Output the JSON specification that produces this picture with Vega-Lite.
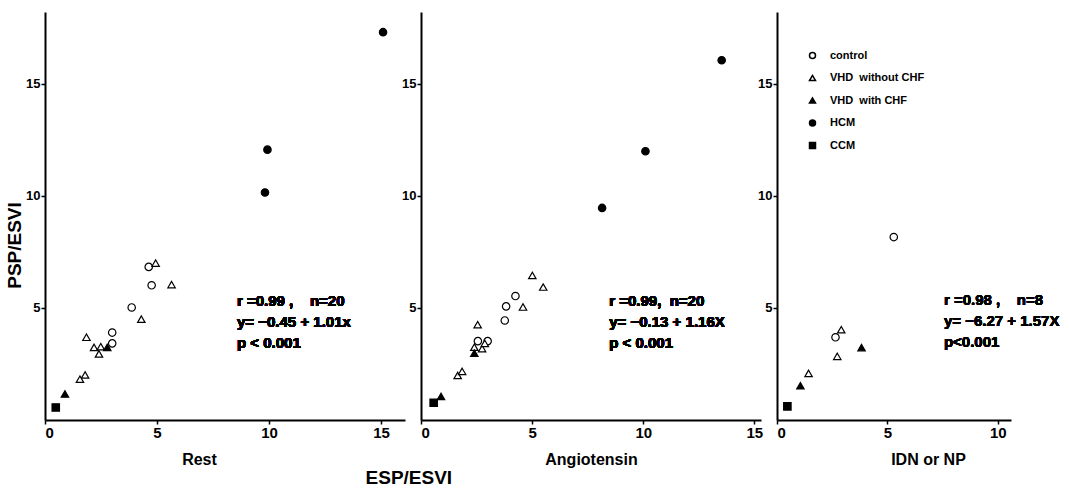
{
  "$schema": "https://vega.github.io/schema/vega-lite/v6.json",
  "background": "white",
  "padding": {"left": 5, "top": 12, "right": 5, "bottom": 5},
  "config": {
    "view": {"stroke": null},
    "font": "Liberation Sans",
    "axis": {
      "grid": false,
      "domainColor": "black",
      "domainWidth": 2,
      "tickColor": "black",
      "tickWidth": 1.5,
      "labelColor": "black",
      "labelFont": "Liberation Sans",
      "labelFontWeight": "bold",
      "titleColor": "black",
      "titleFont": "Liberation Sans",
      "titleFontWeight": "bold"
    },
    "axisX": {"labelFontSize": 15, "labelFontWeight": "bold", "tickSize": 4, "labelPadding": 1, "titleFontSize": 16, "titlePadding": 11},
    "axisY": {"labelFontSize": 13, "labelFontWeight": "bold", "tickSize": 4, "labelPadding": 1, "titleFontSize": 19, "titlePadding": 1},
    "legend": {
      "labelFont": "Liberation Sans",
      "labelFontWeight": "bold",
      "labelFontSize": 11,
      "labelColor": "black",
      "symbolSize": 36,
      "rowPadding": 9.5,
      "labelOffset": 12
    }
  },
  "datasets": {
    "rest": [
      {"group": "HCM", "x": 15.09, "y": 17.3},
      {"group": "HCM", "x": 9.93, "y": 12.06},
      {"group": "HCM", "x": 9.82, "y": 10.15},
      {"group": "control", "x": 4.63, "y": 6.83},
      {"group": "control", "x": 4.76, "y": 6.01},
      {"group": "control", "x": 3.87, "y": 5.02},
      {"group": "control", "x": 3.0, "y": 3.9},
      {"group": "control", "x": 3.0, "y": 3.42},
      {"group": "VHD without CHF", "x": 4.94, "y": 7.0},
      {"group": "VHD without CHF", "x": 5.65, "y": 6.04},
      {"group": "VHD without CHF", "x": 4.3, "y": 4.5},
      {"group": "VHD without CHF", "x": 1.85, "y": 3.69},
      {"group": "VHD without CHF", "x": 2.19, "y": 3.24},
      {"group": "VHD without CHF", "x": 2.49, "y": 3.27},
      {"group": "VHD without CHF", "x": 2.41, "y": 2.95},
      {"group": "VHD without CHF", "x": 1.79, "y": 2.01},
      {"group": "VHD without CHF", "x": 1.56, "y": 1.82},
      {"group": "VHD with CHF", "x": 2.78, "y": 3.24},
      {"group": "VHD with CHF", "x": 0.89, "y": 1.16},
      {"group": "CCM", "x": 0.48, "y": 0.56}
    ],
    "angio": [
      {"group": "HCM", "x": 13.53, "y": 16.05},
      {"group": "HCM", "x": 10.1, "y": 11.99},
      {"group": "HCM", "x": 8.15, "y": 9.46},
      {"group": "control", "x": 4.25, "y": 5.53},
      {"group": "control", "x": 3.83, "y": 5.07},
      {"group": "control", "x": 3.77, "y": 4.44},
      {"group": "control", "x": 2.56, "y": 3.52},
      {"group": "control", "x": 3.0, "y": 3.52},
      {"group": "VHD without CHF", "x": 5.01, "y": 6.45},
      {"group": "VHD without CHF", "x": 5.5, "y": 5.93},
      {"group": "VHD without CHF", "x": 4.59, "y": 5.04},
      {"group": "VHD without CHF", "x": 2.55, "y": 4.25},
      {"group": "VHD without CHF", "x": 2.4, "y": 3.25},
      {"group": "VHD without CHF", "x": 2.75, "y": 3.18},
      {"group": "VHD without CHF", "x": 2.87, "y": 3.42},
      {"group": "VHD without CHF", "x": 1.65, "y": 1.99},
      {"group": "VHD without CHF", "x": 1.85, "y": 2.17},
      {"group": "VHD with CHF", "x": 2.4, "y": 2.98},
      {"group": "VHD with CHF", "x": 0.9, "y": 1.05},
      {"group": "CCM", "x": 0.57, "y": 0.77}
    ],
    "idn": [
      {"group": "control", "x": 5.29, "y": 8.16},
      {"group": "control", "x": 2.65, "y": 3.69},
      {"group": "VHD without CHF", "x": 2.91, "y": 4.03},
      {"group": "VHD without CHF", "x": 2.73, "y": 2.84},
      {"group": "VHD without CHF", "x": 1.43, "y": 2.08},
      {"group": "VHD with CHF", "x": 3.83, "y": 3.23},
      {"group": "VHD with CHF", "x": 1.06, "y": 1.53},
      {"group": "CCM", "x": 0.47, "y": 0.61}
    ]
  },
  "title": {
    "text": "ESP/ESVI",
    "orient": "bottom",
    "anchor": "start",
    "dx": 360,
    "offset": 2,
    "font": "Liberation Sans",
    "fontWeight": "bold",
    "fontSize": 19,
    "color": "black"
  },
  "bounds": "flush",
  "spacing": 16,
  "resolve": {"scale": {"x": "independent", "y": "independent", "fill": "independent", "shape": "independent"}, "legend": {"fill": "independent", "shape": "independent"}},
  "hconcat": [
    {
      "width": 360,
      "height": 408,
      "data": {"name": "rest"},
      "layer": [
        {
          "mark": {"type": "point", "filled": true, "stroke": "black", "strokeWidth": 1.2, "size": 55, "opacity": 1},
          "encoding": {
            "x": {"field": "x", "type": "quantitative", "scale": {"domain": [0, 16.07], "nice": false, "zero": false}, "axis": {"values": [0, 5, 10, 15], "title": "Rest", "titleX": 154}},
            "y": {"field": "y", "type": "quantitative", "scale": {"domain": [0, 18.2], "nice": false, "zero": false}, "axis": {"values": [5, 10, 15], "title": "PSP/ESVI", "titleY": 233}},
            "shape": {"field": "group", "type": "nominal", "scale": {"domain": ["control", "VHD without CHF", "VHD with CHF", "HCM", "CCM"], "range": ["circle", "triangle-up", "triangle-up", "circle", "square"]}, "legend": null},
            "fill": {"field": "group", "type": "nominal", "scale": {"domain": ["control", "VHD without CHF", "VHD with CHF", "HCM", "CCM"], "range": ["white", "white", "black", "black", "black"]}, "legend": null}
          }
        },
        {
          "mark": {"type": "text", "align": "left", "baseline": "top", "fontSize": 15, "fontWeight": "bold", "font": "Liberation Sans", "lineHeight": 21, "fill": "black", "text": ["r =0.99 ,\u00a0\u00a0\u00a0 n=20", "y= −0.45 + 1.01x", "p < 0.001"]},
          "encoding": {"x": {"datum": 8.57}, "y": {"datum": 5.6}}
        }
      ]
    },
    {
      "width": 340,
      "height": 408,
      "data": {"name": "angio"},
      "layer": [
        {
          "mark": {"type": "point", "filled": true, "stroke": "black", "strokeWidth": 1.2, "size": 55, "opacity": 1},
          "encoding": {
            "x": {"field": "x", "type": "quantitative", "scale": {"domain": [0, 15.3], "nice": false, "zero": false}, "axis": {"values": [0, 5, 10, 15], "title": "Angiotensin"}},
            "y": {"field": "y", "type": "quantitative", "scale": {"domain": [0, 18.2], "nice": false, "zero": false}, "axis": {"values": [5, 10, 15], "title": null}},
            "shape": {"field": "group", "type": "nominal", "scale": {"domain": ["control", "VHD without CHF", "VHD with CHF", "HCM", "CCM"], "range": ["circle", "triangle-up", "triangle-up", "circle", "square"]}, "legend": null},
            "fill": {"field": "group", "type": "nominal", "scale": {"domain": ["control", "VHD without CHF", "VHD with CHF", "HCM", "CCM"], "range": ["white", "white", "black", "black", "black"]}, "legend": null}
          }
        },
        {
          "mark": {"type": "text", "align": "left", "baseline": "top", "fontSize": 15, "fontWeight": "bold", "font": "Liberation Sans", "lineHeight": 21, "fill": "black", "text": ["r =0.99,\u00a0 n=20", "y= −0.13 + 1.16X", "p < 0.001"]},
          "encoding": {"x": {"datum": 8.47}, "y": {"datum": 5.6}}
        }
      ]
    },
    {
      "width": 234,
      "height": 408,
      "data": {"name": "idn"},
      "layer": [
        {
          "mark": {"type": "point", "filled": true, "stroke": "black", "strokeWidth": 1.2, "size": 55, "opacity": 1},
          "encoding": {
            "x": {"field": "x", "type": "quantitative", "scale": {"domain": [0, 10.6], "nice": false, "zero": false}, "axis": {"values": [0, 5, 10], "title": "IDN or NP", "titleX": 151}},
            "y": {"field": "y", "type": "quantitative", "scale": {"domain": [0, 18.2], "nice": false, "zero": false}, "axis": {"values": [5, 10, 15], "title": null}},
            "shape": {"field": "group", "type": "nominal", "scale": {"domain": ["control", "VHD without CHF", "VHD with CHF", "HCM", "CCM"], "range": ["circle", "triangle-up", "triangle-up", "circle", "square"]}, "legend": {"title": null, "orient": "none", "legendX": 30, "legendY": 38, "labelExpr": "datum.label == 'VHD without CHF' ? 'VHD\u00a0 without CHF' : datum.label == 'VHD with CHF' ? 'VHD\u00a0 with CHF' : datum.label", "encode": {"symbols": {"update": {"stroke": {"value": "black"}, "strokeWidth": {"value": 1}}}}}},
            "fill": {"field": "group", "type": "nominal", "scale": {"domain": ["control", "VHD without CHF", "VHD with CHF", "HCM", "CCM"], "range": ["white", "white", "black", "black", "black"]}, "legend": {"title": null, "orient": "none", "legendX": 30, "legendY": 38, "labelExpr": "datum.label == 'VHD without CHF' ? 'VHD\u00a0 without CHF' : datum.label == 'VHD with CHF' ? 'VHD\u00a0 with CHF' : datum.label", "encode": {"symbols": {"update": {"stroke": {"value": "black"}, "strokeWidth": {"value": 1}}}}}}
          }
        },
        {
          "mark": {"type": "text", "align": "left", "baseline": "top", "fontSize": 15, "fontWeight": "bold", "font": "Liberation Sans", "lineHeight": 21, "fill": "black", "text": ["r =0.98 ,\u00a0\u00a0\u00a0 n=8", "y= −6.27 + 1.57X", "p<0.001"]},
          "encoding": {"x": {"datum": 7.56}, "y": {"datum": 5.66}}
        }
      ]
    }
  ]
}
